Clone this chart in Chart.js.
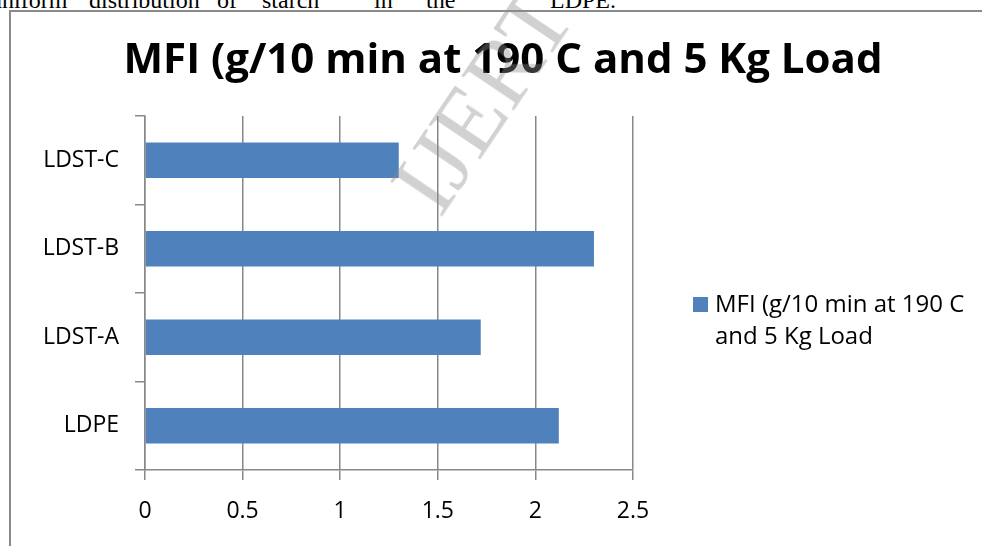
<!DOCTYPE html>
<html>
<head>
<meta charset="utf-8">
<script src="https://cdn.jsdelivr.net/npm/chart.js@4.4.1/dist/chart.umd.min.js"></script>
<style>
  html, body { margin: 0; padding: 0; background: #fff; }
  body { width: 982px; height: 546px; overflow: hidden; position: relative; }
  .line { position: absolute; top: -13px; height: 22px; line-height: 22px;
          font: 24px "Liberation Serif", "Times New Roman", serif; color: #000; white-space: nowrap; }
  .line span { position: absolute; top: 0; }
  #frame { position: absolute; left: 9px; top: 10px; width: 1000px; height: 600px;
           border-left: 2px solid #8a8a8a; border-top: 2px solid #8a8a8a; box-sizing: border-box; }
  #wrap { position: absolute; left: 0; top: 0; width: 982px; height: 546px; }
  #mark { position: absolute; left: 482px; top: 100px; font: 96px "Liberation Serif", serif;
          color: rgba(140,140,140,0.4); white-space: nowrap;
          transform: translate(-50%, -50%) rotate(-56deg); pointer-events: none; }
</style>
</head>
<body>
<div class="line">
  <span style="left:-10px">uniform</span>
  <span style="left:89px">distribution</span>
  <span style="left:217px">of</span>
  <span style="left:262px">starch</span>
  <span style="left:374px">in</span>
  <span style="left:426px">the</span>
  <span style="left:550px">LDPE.</span>
</div>
<div id="frame"></div>
<div id="wrap"><canvas id="c" width="982" height="546"></canvas></div>
<div id="mark">IJERT</div>
<script>
// Melt flow index of each sample
const categories = ['LDPE', 'LDST-A', 'LDST-B', 'LDST-C'];
const mfiValues = [2.12, 1.72, 2.3, 1.3];
const seriesName = 'MFI (g/10 min at 190 C and 5 Kg Load';
const legendLines = ['MFI (g/10 min at 190 C', 'and 5 Kg Load'];
const xTicks = [0, 0.5, 1, 1.5, 2, 2.5];

const FONT = '"Open Sans", "Noto Sans", sans-serif';
const GRID = '#888888';
const BAR = '#4F81BD';

// Heading centred over the chart box
const titlePlugin = {
  id: 'heading',
  afterDraw(chart) {
    const ctx = chart.ctx;
    ctx.save();
    ctx.font = 'bold 42px ' + FONT;
    ctx.fillStyle = '#000';
    ctx.textAlign = 'center';
    ctx.textBaseline = 'alphabetic';
    ctx.fillText(seriesName, 503, 73);
    ctx.restore();
  }
};

// Series key on the right, wrapped over two lines
const keyPlugin = {
  id: 'seriesKey',
  afterDraw(chart) {
    const ctx = chart.ctx;
    const ds = chart.data.datasets[0];
    ctx.save();
    ctx.fillStyle = ds.backgroundColor;
    ctx.fillRect(693, 297, 15, 15);
    ctx.font = '24px ' + FONT;
    ctx.fillStyle = '#000';
    ctx.textAlign = 'left';
    ctx.textBaseline = 'alphabetic';
    legendLines.forEach((t, i) => ctx.fillText(t, 715, 312 + i * 32));
    ctx.restore();
  }
};

new Chart(document.getElementById('c'), {
  type: 'bar',
  data: {
    labels: categories,
    datasets: [{
      label: seriesName,
      data: mfiValues,
      backgroundColor: BAR,
      borderWidth: 0,
      categoryPercentage: 1.0,
      barPercentage: 0.4
    }]
  },
  options: {
    indexAxis: 'y',
    responsive: false,
    animation: false,
    devicePixelRatio: 1,
    layout: { padding: { top: 116, right: 349, left: 0, bottom: 0 } },
    plugins: { legend: { display: false }, title: { display: false }, tooltip: { enabled: false } },
    scales: {
      x: {
        type: 'linear',
        min: 0,
        max: 2.5,
        afterBuildTicks(scale) { scale.ticks = xTicks.map(v => ({ value: v })); },
        afterFit(scale) { scale.height = 76; },
        grid: { color: GRID, lineWidth: 1.5, tickLength: 10, drawTicks: true },
        border: { display: true, color: GRID, width: 1.5 },
        ticks: { color: '#000', font: { family: FONT, size: 23 }, padding: 18,
                 callback: (v) => String(v) }
      },
      y: {
        reverse: true,
        afterFit(scale) { scale.width = 145; },
        grid: { color: GRID, lineWidth: 1.5, tickLength: 10, drawOnChartArea: false, offset: true },
        border: { display: true, color: GRID, width: 1.5 },
        ticks: { color: '#000', font: { family: FONT, size: 23 }, padding: 16 }
      }
    }
  },
  plugins: [titlePlugin, keyPlugin]
});
</script>
</body>
</html>
